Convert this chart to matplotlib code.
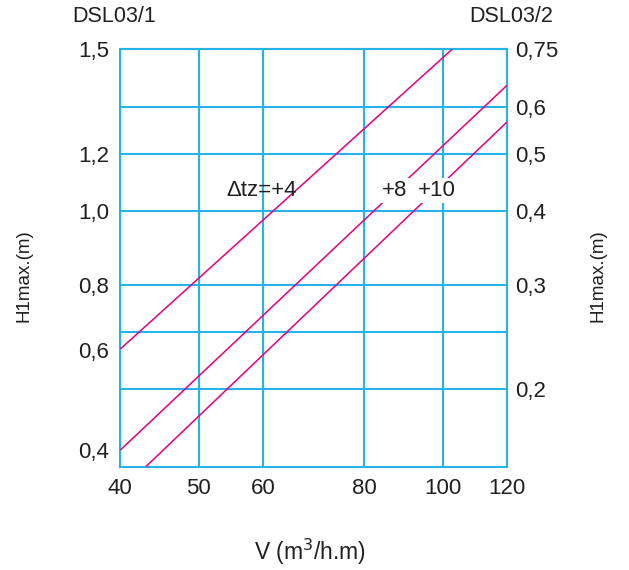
import matplotlib.pyplot as plt
from matplotlib.ticker import FixedLocator, NullLocator, NullFormatter

plt.rcParams['font.family'] = ['Liberation Sans', 'DejaVu Sans']

# flow V (m3/h.m) and H1max (m, DSL03/2 scale) at the ends of each line
v_tz4 = [40, 102.6]
h_tz4 = [0.2337, 0.75]
v_tz8 = [40, 120]
h_tz8 = [0.1577, 0.6525]
v_tz10 = [43.0, 120]
h_tz10 = [0.1478, 0.5656]

x_ticks = [40, 50, 60, 80, 100, 120]
right_ticks = [0.2, 0.25, 0.3, 0.4, 0.5, 0.6, 0.75]
right_labels = ['0,2', '', '0,3', '0,4', '0,5', '0,6', '0,75']
# DSL03/1 labels sit at these heights on the same scale
left_pos = [0.75, 0.5, 0.4, 0.3, 0.233, 0.158]
left_labels = ['1,5', '1,2', '1,0', '0,8', '0,6', '0,4']

grid_c = '#25b4e8'
line_c = '#e5007e'
txt_c = '#231f20'

fig = plt.figure(figsize=(6.29, 5.70), dpi=100)
ax = fig.add_axes([0.1913, 0.1812, 0.6148, 0.7320])
ax.set_xscale('log')
ax.set_yscale('log')
ax.set_xlim(40, 120)
ax.set_ylim(0.1478, 0.75)

for v, h in [(v_tz4, h_tz4), (v_tz8, h_tz8), (v_tz10, h_tz10)]:
    ax.plot(v, h, color=line_c, lw=1.1, zorder=3, solid_capstyle='butt')

ax.xaxis.set_major_locator(FixedLocator(x_ticks))
ax.xaxis.set_minor_locator(NullLocator())
ax.xaxis.set_minor_formatter(NullFormatter())
ax.set_xticklabels([str(t) for t in x_ticks])

ax.yaxis.set_major_locator(FixedLocator(left_pos))
ax.yaxis.set_minor_locator(NullLocator())
ax.yaxis.set_minor_formatter(NullFormatter())
ax.set_yticklabels(left_labels)
ax.tick_params(length=0, labelsize=16, colors=txt_c)
ax.tick_params(axis='x', pad=8)
ax.tick_params(axis='y', pad=8)

# grid lines
for t in x_ticks:
    ax.axvline(t, color=grid_c, lw=1.5, zorder=1)
for t in right_ticks:
    ax.axhline(t, color=grid_c, lw=1.5, zorder=1)
for s in ax.spines.values():
    s.set_color(grid_c)
    s.set_linewidth(1.5)

ax2 = ax.twinx()
ax2.set_yscale('log')
ax2.set_ylim(ax.get_ylim())
ax2.yaxis.set_major_locator(FixedLocator(right_ticks))
ax2.yaxis.set_minor_locator(NullLocator())
ax2.yaxis.set_minor_formatter(NullFormatter())
ax2.set_yticklabels(right_labels)
ax2.tick_params(length=0, labelsize=16, colors=txt_c, pad=6)
for s in ax2.spines.values():
    s.set_visible(False)

ax.text(59.8, 0.434, 'Δtz=+4', fontsize=16, ha='center', va='center',
        color=txt_c, zorder=4)
box = dict(facecolor='white', edgecolor='none', pad=1.5)
ax.text(87.1, 0.434, '+8', fontsize=16, ha='center', va='center',
        color=txt_c, zorder=4, bbox=box)
ax.text(98.4, 0.434, '+10', fontsize=16, ha='center', va='center',
        color=txt_c, zorder=4, bbox=box)

fig.text(72 / 629, 1 - 17 / 570, 'DSL03/1', fontsize=15.5, ha='left',
         va='center', color=txt_c)
fig.text(553 / 629, 1 - 17 / 570, 'DSL03/2', fontsize=15.5, ha='right',
         va='center', color=txt_c)
fig.text(24 / 629, 1 - 276 / 570, 'H1max.(m)', fontsize=13.5, rotation=90,
         ha='center', va='center', color=txt_c)
fig.text(598 / 629, 1 - 276 / 570, 'H1max.(m)', fontsize=13.5, rotation=90,
         ha='center', va='center', color=txt_c)
fig.text(310 / 629, 1 - 552 / 570, 'V (m$^3$/h.m)', fontsize=16.5,
         ha='center', va='center', color=txt_c)

fig.savefig('out.png', dpi=100)
